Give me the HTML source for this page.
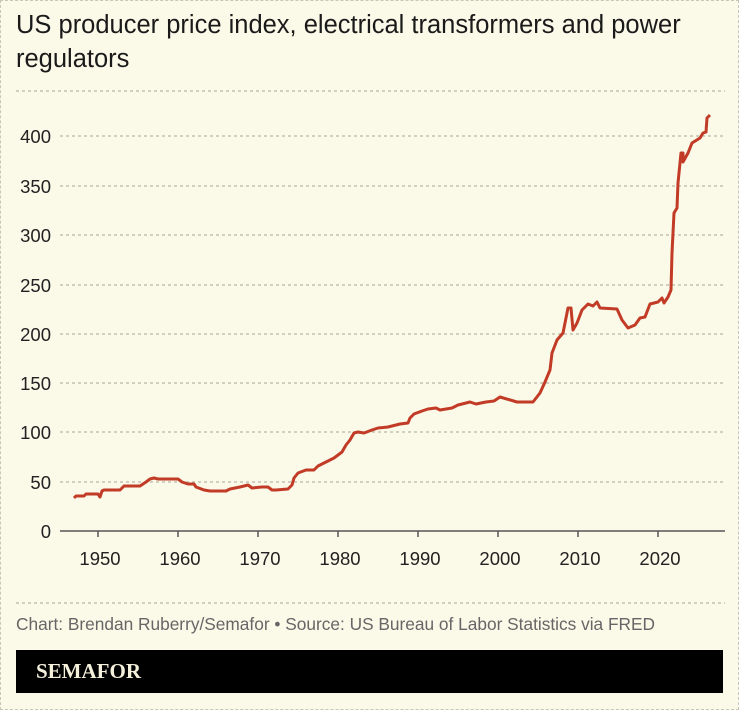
<!DOCTYPE html>
<html><head><meta charset="utf-8"><style>
html,body{margin:0;padding:0;background:#fbf9e8;}
body{width:739px;height:710px;position:relative;overflow:hidden;font-family:"Liberation Sans",sans-serif;}
.frame{position:absolute;left:0;top:0;width:737px;height:708px;border:1px dashed #c8c6b8;}
.title{position:absolute;left:16px;top:8px;font-size:25.5px;line-height:34px;color:#1a1a1a;width:705px;}
.src{position:absolute;left:16px;top:614px;font-size:17.3px;color:#666;white-space:nowrap;}
.bar{position:absolute;left:16px;top:650px;width:707px;height:43px;background:#000;}
.bar span{position:absolute;left:20px;top:9px;color:#f5f0dc;font-family:"Liberation Serif",serif;font-weight:bold;font-size:21px;}
</style></head><body>
<div class="frame"></div>
<div class="title">US producer price index, electrical transformers and power regulators</div>
<svg style="position:absolute;left:0;top:0" width="739" height="710">
<g stroke="#b8b6a8" stroke-width="1.2" stroke-dasharray="3,3">
<line x1="16" x2="725" y1="91" y2="91"/>
<line x1="60" x2="725" y1="136" y2="136"/>
<line x1="60" x2="725" y1="186" y2="186"/>
<line x1="60" x2="725" y1="235" y2="235"/>
<line x1="60" x2="725" y1="285" y2="285"/>
<line x1="60" x2="725" y1="334" y2="334"/>
<line x1="60" x2="725" y1="383" y2="383"/>
<line x1="60" x2="725" y1="432" y2="432"/>
<line x1="60" x2="725" y1="482" y2="482"/>
<line x1="16" x2="725" y1="603" y2="603"/>
</g>
<line x1="60" x2="725" y1="531" y2="531" stroke="#555" stroke-width="1.5"/>
<g stroke="#555" stroke-width="1.5">
<line x1="98" x2="98" y1="531" y2="537"/><line x1="178" x2="178" y1="531" y2="537"/><line x1="258" x2="258" y1="531" y2="537"/><line x1="338" x2="338" y1="531" y2="537"/><line x1="418" x2="418" y1="531" y2="537"/><line x1="498" x2="498" y1="531" y2="537"/><line x1="578" x2="578" y1="531" y2="537"/><line x1="658" x2="658" y1="531" y2="537"/>
</g>
<g font-size="18.5" fill="#222" text-anchor="end">
<text x="51" y="143">400</text><text x="51" y="193">350</text><text x="51" y="242">300</text><text x="51" y="292">250</text><text x="51" y="341">200</text><text x="51" y="390">150</text><text x="51" y="439">100</text><text x="51" y="489">50</text><text x="51" y="538">0</text>
</g>
<g font-size="18.5" fill="#222" text-anchor="middle">
<text x="100" y="565">1950</text><text x="180" y="565">1960</text><text x="260" y="565">1970</text><text x="340" y="565">1980</text><text x="420" y="565">1990</text><text x="500" y="565">2000</text><text x="580" y="565">2010</text><text x="660" y="565">2020</text>
</g>
<polyline fill="none" stroke="#c23b26" stroke-width="3" stroke-linejoin="round" points="74,498 76,496 84,496 86,494 98,494 100,497 102,491 104,490 120,490 124,486 140,486 146,482 150,479 154,478 158,479 178,479 182,482 188,484 194,484 196,487 204,490 210,491 226,491 230,489 240,487 248,485 252,488 262,487 268,487 272,490 276,490 288,489 292,485 294,478 298,473 306,470 314,470 318,466 326,462 334,458 342,452 346,445 350,440 354,433 358,432 364,433 372,430 378,428 388,427 400,424 408,423 410,418 414,414 422,411 428,409 436,408 440,410 452,408 458,405 466,403 470,402 476,404 486,402 494,401 500,397 517,402 533,402 540,393 545,382 550,370 552,353 557,340 563,333 568,308 571,308 573,330 577,323 582,310 588,304 593,306 597,302 600,308 617,309 622,320 628,328 635,325 640,318 645,317 650,304 658,302 662,298 664,303 668,297 671,290 672,253 674,213 677,208 678,183 681,153 683,153 683,162 688,153 692,143 700,138 703,133 706,132 707,118 710,115"/>
</svg>
<div class="src">Chart: Brendan Ruberry/Semafor • Source: US Bureau of Labor Statistics via FRED</div>
<div class="bar"><span>SEMAFOR</span></div>
</body></html>
